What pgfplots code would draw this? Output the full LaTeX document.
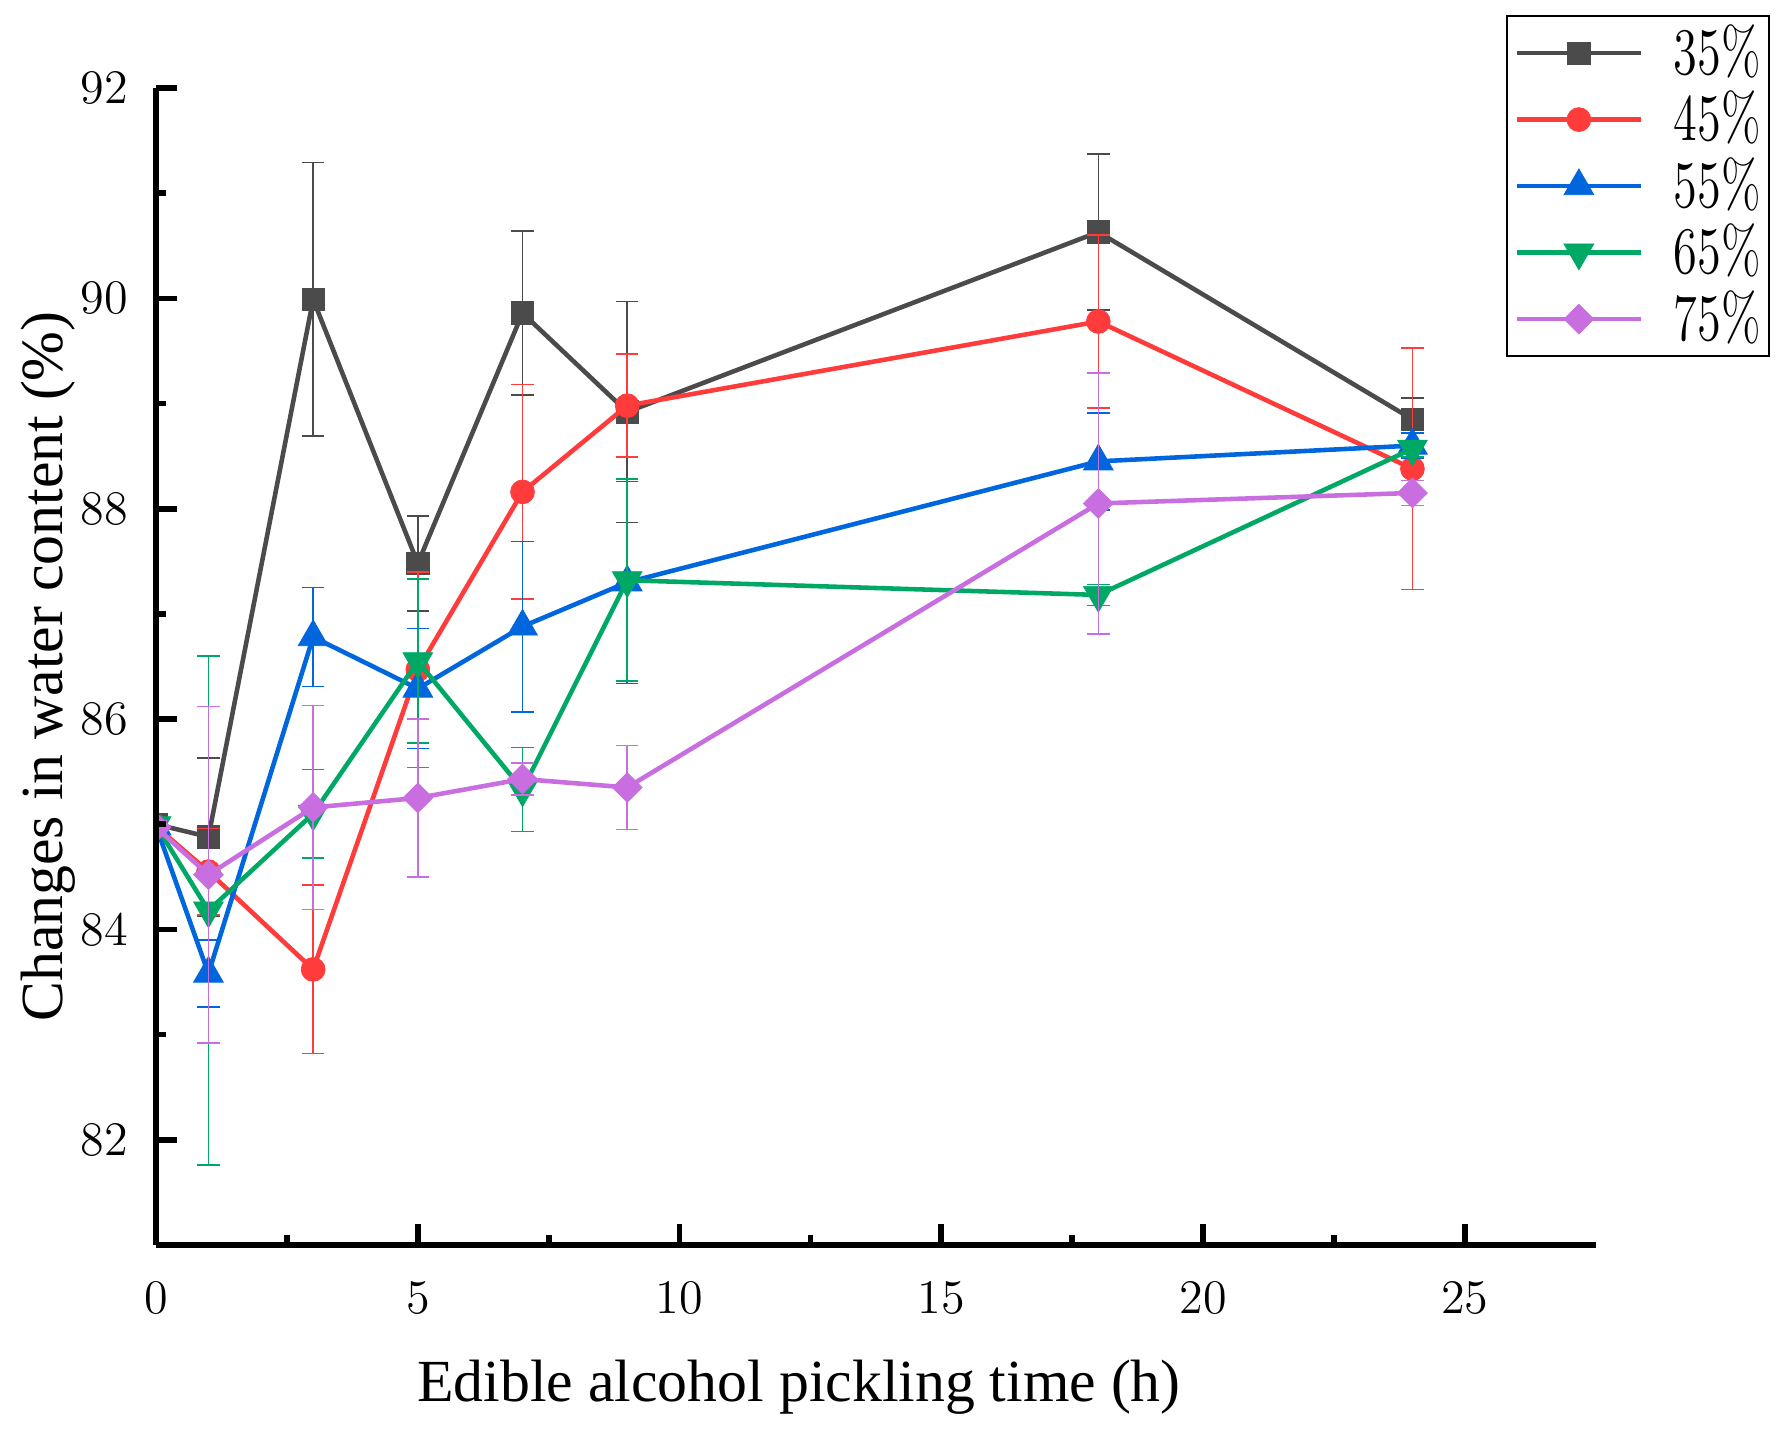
\documentclass[border=0pt]{standalone}
\usepackage{fontspec}
\setmainfont{Liberation Serif}
\newfontfamily\lmr{Latin Modern Roman}
\usepackage{graphicx}
\usepackage{pgfplots}
\usepackage{pgfplotstable}
\pgfplotsset{compat=1.18}
\definecolor{c35}{HTML}{4B4B4B}
\definecolor{c45}{HTML}{FF3B3B}
\definecolor{c55}{HTML}{0066DE}
\definecolor{c65}{HTML}{00A865}
\definecolor{c75}{HTML}{C86EE0}

\pgfplotstableread{
x y e
0 85.00 0.06
1 84.88 0.75
3 89.99 1.30
5 87.48 0.45
7 89.86 0.78
9 88.92 1.05
18 90.63 0.74
24 88.85 0.20
}\tA
\pgfplotstableread{
x y e
0 84.98 0.06
1 84.55 0.41
3 83.62 0.80
5 86.47 0.93
7 88.16 1.02
9 88.98 0.49
18 89.78 0.82
24 88.38 1.15
}\tB
\pgfplotstableread{
x y e
0 84.98 0.06
1 83.58 0.32
3 86.78 0.47
5 86.29 0.57
7 86.88 0.81
9 87.30 0.96
18 88.45 0.46
24 88.60 0.12
}\tC
\pgfplotstableread{
x y e
0 84.99 0.06
1 84.18 2.42
3 85.10 0.42
5 86.55 0.78
7 85.33 0.40
9 87.32 0.96
18 87.18 0.10
24 88.57 0.08
}\tD
\pgfplotstableread{
x y e
0 84.97 0.06
1 84.52 1.60
3 85.16 0.97
5 85.25 0.75
7 85.43 0.15
9 85.35 0.40
18 88.05 1.24
24 88.15 0.12
}\tE

\pgfplotsset{
  eb/.style={error bars/.cd, y dir=both, y explicit,
    error bar style={line width=0.45pt, solid},
    error mark options={rotate=90, mark size=3.2pt, line width=0.45pt}},
}

\begin{document}
\begin{tikzpicture}
\useasboundingbox (0,0) rectangle (17.87cm,14.32cm);
\begin{axis}[
  at={(1.561cm,1.87cm)}, anchor=south west,
  width=14.395cm, height=11.57cm, scale only axis,
  xmin=0, xmax=27.5, ymin=81, ymax=92,
  axis lines=left,
  axis line style={-, line width=1.7pt, black},
  every outer x axis line/.append style={line width=1.7pt},
  every outer y axis line/.append style={line width=1.7pt},
  axis on top,
  clip marker paths=true,
  xtick={0,5,...,25}, minor xtick={2.5,7.5,...,22.5},
  ytick={82,84,...,92}, minor ytick={83,85,...,91},
  tick align=inside,
  major tick length=0.205cm, minor tick length=0.1cm,
  every tick/.append style={line width=1.6pt, black},
  every minor tick/.append style={line width=1.6pt, black},
  /pgf/number format/assume math mode=true,
  ticklabel style={font=\lmr\fontsize{13.7}{16}\selectfont},
  xticklabel style={inner sep=0pt, anchor=north, yshift=-0.355cm},
  yticklabel style={inner sep=0pt, anchor=east, xshift=-0.275cm},
  xlabel={Edible alcohol pickling time (h)},
  ylabel={Changes in water content (\%)},
  label style={font=\fontsize{17}{20}\selectfont},
  xlabel style={at={(axis description cs:0.4466,0)}, anchor=base, yshift=-1.565cm},
  ylabel style={at={(axis description cs:-0.0649,0.5)}, anchor=base},
  legend cell align=left,
  legend style={at={(axis description cs:0.9378,1.0631)}, anchor=north west,
    draw=black, line width=0.5pt, inner xsep=0.08cm, inner ysep=0.04cm,
    row sep=0pt,
    nodes={inner sep=0pt, text height=0.5425cm, text depth=0.1225cm},
    font=\lmr\fontsize{13.8}{16}\selectfont,
    /tikz/every odd column/.append style={column sep=0.31cm}},
  legend image code/.code={\draw[mark repeat=2,mark phase=2] plot coordinates {(0cm,0cm) (0.6165cm,0cm) (1.233cm,0cm)};},
]
\addplot[color=c35, line width=1.3pt, mark=square*, mark size=3.2pt, mark options={solid, fill=c35, line width=0.2pt}, eb] table[x=x, y=y, y error=e] {\tA};
\addlegendentry{\scalebox{1}[1.37]{35\%}}
\addplot[color=c45, line width=1.3pt, mark=*, mark size=3.4pt, mark options={solid, fill=c45, line width=0.2pt}, eb] table[x=x, y=y, y error=e] {\tB};
\addlegendentry{\scalebox{1}[1.37]{45\%}}
\addplot[color=c55, line width=1.3pt, mark=triangle*, mark size=4.9pt, mark options={solid, fill=c55, line width=0.2pt}, eb] table[x=x, y=y, y error=e] {\tC};
\addlegendentry{\scalebox{1}[1.37]{55\%}}
\addplot[color=c65, line width=1.3pt, mark=triangle*, mark size=4.9pt, mark options={solid, fill=c65, line width=0.2pt, rotate=180}, eb] table[x=x, y=y, y error=e] {\tD};
\addlegendentry{\scalebox{1}[1.37]{65\%}}
\addplot[color=c75, line width=1.3pt, mark=square*, mark size=3.0pt, mark options={solid, fill=c75, line width=0.2pt, rotate=45}, eb] table[x=x, y=y, y error=e] {\tE};
\addlegendentry{\scalebox{1}[1.37]{75\%}}
\end{axis}
\end{tikzpicture}
\end{document}
